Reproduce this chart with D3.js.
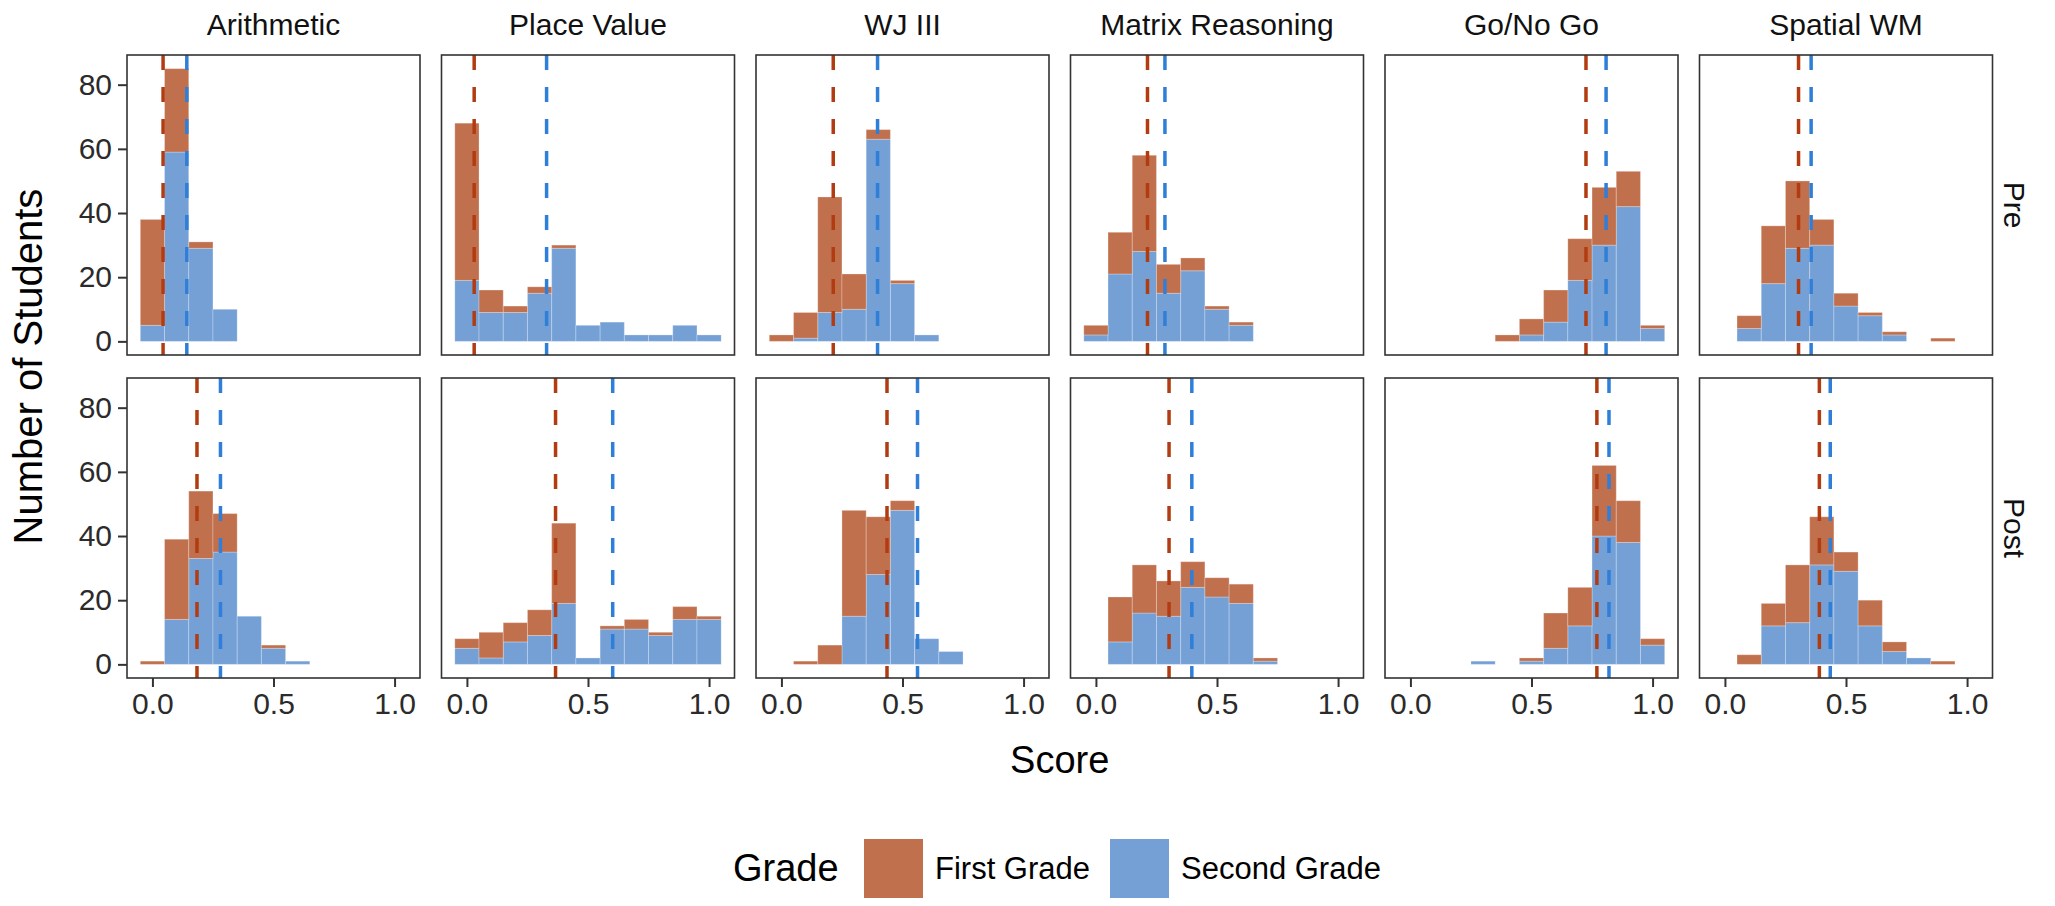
<!DOCTYPE html>
<html>
<head>
<meta charset="utf-8">
<script src="https://cdn.jsdelivr.net/npm/d3@7"></script>
<style>
  body { margin: 0; background: #fff; }
  text { font-family: "Liberation Sans", Arial, Helvetica, sans-serif; }
</style>
</head>
<body>
<svg id="chart" width="2055" height="906"></svg>
<script>
var tests = ["Arithmetic", "Place Value", "WJ III", "Matrix Reasoning", "Go/No Go", "Spatial WM"];
var times = ["Pre", "Post"];
var grades = ["First Grade", "Second Grade"];
var binCenters = [0.0, 0.1, 0.2, 0.3, 0.4, 0.5, 0.6, 0.7, 0.8, 0.9, 1.0];
var xTicks = [0.0, 0.5, 1.0];
var yTicks = [0, 20, 40, 60, 80];

// counts per bin (one row per test)
var firstGradePre = [
    [33, 26, 2, 0, 0, 0, 0, 0, 0, 0, 0],
    [49, 7, 2, 2, 1, 0, 0, 0, 0, 0, 0],
    [2, 8, 36, 11, 3, 1, 0, 0, 0, 0, 0],
    [3, 13, 30, 9, 4, 1, 1, 0, 0, 0, 0],
    [0, 0, 0, 0, 2, 5, 10, 13, 18, 11, 1],
    [0, 4, 18, 21, 8, 4, 1, 1, 0, 1, 0]
];
var secondGradePre = [
    [5, 59, 29, 10, 0, 0, 0, 0, 0, 0, 0],
    [19, 9, 9, 15, 29, 5, 6, 2, 2, 5, 2],
    [0, 1, 9, 10, 63, 18, 2, 0, 0, 0, 0],
    [2, 21, 28, 15, 22, 10, 5, 0, 0, 0, 0],
    [0, 0, 0, 0, 0, 2, 6, 19, 30, 42, 4],
    [0, 4, 18, 29, 30, 11, 8, 2, 0, 0, 0]
];
var firstGradePost = [
    [1, 25, 21, 12, 0, 1, 0, 0, 0, 0, 0],
    [3, 8, 6, 8, 25, 0, 1, 3, 1, 4, 1],
    [0, 1, 6, 33, 18, 3, 0, 0, 0, 0, 0],
    [0, 14, 15, 11, 8, 6, 6, 1, 0, 0, 0],
    [0, 0, 0, 0, 0, 1, 11, 12, 22, 13, 2],
    [0, 3, 7, 18, 15, 6, 8, 3, 0, 1, 0]
];
var secondGradePost = [
    [0, 14, 33, 35, 15, 5, 1, 0, 0, 0, 0],
    [5, 2, 7, 9, 19, 2, 11, 11, 9, 14, 14],
    [0, 0, 0, 15, 28, 48, 8, 4, 0, 0, 0],
    [0, 7, 16, 15, 24, 21, 19, 1, 0, 0, 0],
    [0, 0, 0, 1, 0, 1, 5, 12, 40, 38, 6],
    [0, 0, 12, 13, 31, 29, 12, 4, 2, 0, 0]
];

// group means (dashed lines)
var firstMeanPre = [0.044, 0.030, 0.214, 0.213, 0.725, 0.304];
var secondMeanPre = [0.142, 0.329, 0.397, 0.285, 0.808, 0.356];
var firstMeanPost = [0.184, 0.366, 0.436, 0.302, 0.770, 0.390];
var secondMeanPost = [0.281, 0.602, 0.562, 0.396, 0.820, 0.435];

var BIN = 0.1;
var FILL = {"First Grade": "#c1704d", "Second Grade": "#74a0d6"};
var LINE = {"First Grade": "#b23c12", "Second Grade": "#2f7ed8"};

var panelLeft = 127, panelPitch = 314.5, panelW = 293;
var rowTop = [55, 378], panelH = 300;

var svg = d3.select("#chart");

var x = d3.scaleLinear().domain([-0.105, 1.105]).range([0, panelW]);
var y = d3.scaleLinear().domain([-4.25, 89.25]).range([panelH, 0]);

var counts = {Pre: [firstGradePre, secondGradePre], Post: [firstGradePost, secondGradePost]};
var means = {Pre: [firstMeanPre, secondMeanPre], Post: [firstMeanPost, secondMeanPost]};

var stack = d3.stack().keys(["Second Grade", "First Grade"]);

times.forEach(function (time, r)
{
    tests.forEach(function (test, c)
    {
        var g = svg.append("g")
            .attr("transform", "translate(" + (panelLeft + c * panelPitch) + "," + rowTop[r] + ")");

        var rows = binCenters.map(function (b, i) {
            return {bin: b, "First Grade": counts[time][0][c][i], "Second Grade": counts[time][1][c][i]};
        });

        var layers = stack(rows);

        g.selectAll("g.layer")
            .data(layers)
            .enter().append("g")
            .attr("class", "layer")
            .attr("fill", function (d) { return FILL[d.key]; })
            .selectAll("rect")
            .data(function (d) { return d.filter(function (p) { return p[1] > p[0]; }); })
            .enter().append("rect")
            .attr("x", function (d) { return x(d.data.bin - BIN / 2); })
            .attr("width", function (d) { return x(d.data.bin + BIN / 2) - x(d.data.bin - BIN / 2); })
            .attr("y", function (d) { return y(d[1]); })
            .attr("height", function (d) { return y(d[0]) - y(d[1]); })
            .attr("stroke", "rgba(255,255,255,0.25)")
            .attr("stroke-width", 1);

        // dashed mean lines, drawn top to bottom
        grades.forEach(function (grade, k)
        {
            var m = means[time][k][c];
            g.append("line")
                .attr("x1", x(m)).attr("x2", x(m))
                .attr("y1", 0).attr("y2", panelH)
                .attr("stroke", LINE[grade])
                .attr("stroke-width", 3.5)
                .attr("stroke-dasharray", "15,17");
        });

        g.append("rect")
            .attr("width", panelW).attr("height", panelH)
            .attr("fill", "none")
            .attr("stroke", "#333")
            .attr("stroke-width", 1.6);

        if (c === 0)
        {
            var ya = g.append("g")
                .call(d3.axisLeft(y).tickValues(yTicks).tickSize(9).tickPadding(6));
            ya.select(".domain").remove();
            ya.selectAll(".tick line").attr("stroke", "#333").attr("stroke-width", 2);
            ya.selectAll(".tick text").attr("fill", "#2b2b2b").style("font-size", "30px");
        }

        if (r === 1)
        {
            var xa = g.append("g")
                .attr("transform", "translate(0," + panelH + ")")
                .call(d3.axisBottom(x).tickValues(xTicks).tickFormat(d3.format(".1f")).tickSize(9).tickPadding(6));
            xa.select(".domain").remove();
            xa.selectAll(".tick line").attr("stroke", "#333").attr("stroke-width", 2);
            xa.selectAll(".tick text").attr("fill", "#2b2b2b").style("font-size", "30px");
        }

        if (r === 0)
        {
            g.append("text")
                .attr("x", panelW / 2).attr("y", -20)
                .attr("text-anchor", "middle")
                .style("font-size", "30px")
                .attr("fill", "#111")
                .text(test);
        }

        if (c === tests.length - 1)
        {
            g.append("text")
                .attr("transform", "translate(" + (panelW + 22) + "," + (panelH / 2) + ") rotate(90)")
                .attr("text-anchor", "middle")
                .attr("dy", "0.35em")
                .style("font-size", "30px")
                .attr("fill", "#111")
                .text(time);
        }
    });
});

// axis titles
var plotMidX = panelLeft + (panelPitch * 5 + panelW) / 2;
svg.append("text")
    .attr("x", plotMidX).attr("y", 773)
    .attr("text-anchor", "middle")
    .style("font-size", "38px")
    .text("Score");

svg.append("text")
    .attr("transform", "translate(42," + ((rowTop[0] + rowTop[1] + panelH) / 2) + ") rotate(-90)")
    .attr("text-anchor", "middle")
    .style("font-size", "40px")
    .text("Number of Students");

// legend
var legend = svg.append("g").attr("transform", "translate(0,868)");
legend.append("text")
    .attr("x", 733).attr("dy", "0.35em")
    .style("font-size", "38px")
    .text("Grade");

var keyX = {"First Grade": 864, "Second Grade": 1110};
grades.forEach(function (grade)
{
    legend.append("rect")
        .attr("x", keyX[grade]).attr("y", -29)
        .attr("width", 59).attr("height", 59)
        .attr("fill", FILL[grade]);
    legend.append("text")
        .attr("x", keyX[grade] + 71).attr("dy", "0.35em")
        .style("font-size", "31px")
        .text(grade);
});
</script>
</body>
</html>
